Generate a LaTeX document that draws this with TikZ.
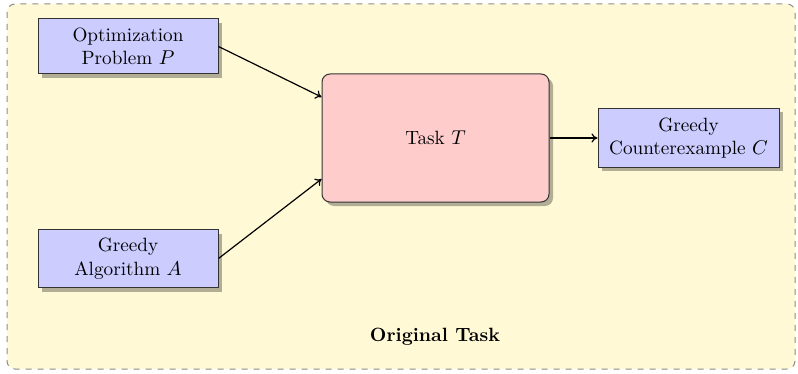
\documentclass[tikz,border=0pt]{standalone}
\usetikzlibrary{shadows,calc,arrows.meta}
\definecolor{panelbg}{RGB}{255,249,214}
\definecolor{panelrule}{RGB}{140,140,140}
\definecolor{inputfill}{RGB}{204,204,255}
\definecolor{taskfill}{RGB}{255,204,204}
\tikzset{
  panel/.style={draw=panelrule, dashed, fill=panelbg, rounded corners=4pt, line width=0.5pt},
  iobox/.style={draw=black!80, fill=inputfill, line width=0.5pt, align=center,
    inner sep=0pt, font=\fontsize{9.6}{11.8}\selectfont,
    drop shadow={shadow xshift=2pt, shadow yshift=-2pt, opacity=0.3, fill=black}},
  taskbox/.style={draw=black!80, fill=taskfill, rounded corners=4pt, line width=0.5pt,
    inner sep=0pt, font=\fontsize{9.6}{11.8}\selectfont,
    drop shadow={shadow xshift=2pt, shadow yshift=-2pt, opacity=0.3, fill=black}},
  flow/.style={-{To[length=3pt,width=4.5pt]}, line width=0.6pt, black}
}
\begin{document}
\begin{tikzpicture}[x=0.5pt, y=-0.5pt]
  \useasboundingbox (0,0) rectangle (798,374);
  % dashed outer panel
  \path[panel] (7,4) rectangle (795,369);
  % boxes
  \node[iobox, minimum width=90pt, minimum height=27.5pt] (P) at (128,46.5)
    {Optimization\\Problem $P$};
  \node[iobox, minimum width=90pt, minimum height=29pt] (A) at (128,258.5)
    {Greedy\\Algorithm $A$};
  \node[taskbox, minimum width=113.5pt, minimum height=64pt] (T) at (435.5,138)
    {Task $T$};
  \node[iobox, minimum width=90.5pt, minimum height=29.5pt] (C) at (688.5,138)
    {Greedy\\Counterexample $C$};
  \node[font=\fontsize{9.6}{11.8}\selectfont\bfseries] (title) at (435,337) {Original Task};
  % connectors
  \draw[flow] (P.east) -- ($(T.west)+(0,-41)$);
  \draw[flow] (A.east) -- ($(T.west)+(0,41)$);
  \draw[flow] (T.east) -- (C.west);
\end{tikzpicture}
\end{document}
